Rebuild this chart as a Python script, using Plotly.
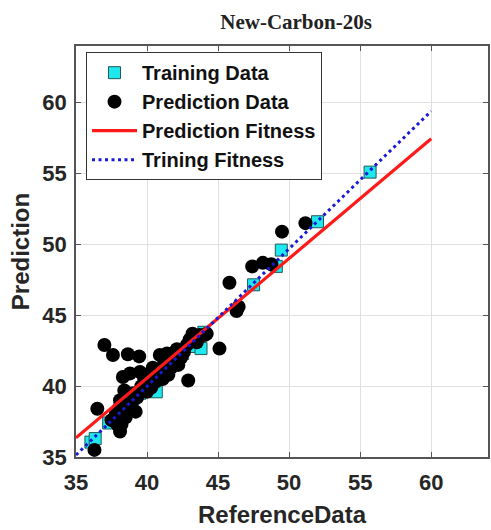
import plotly.graph_objects as go

# Training set (reference value, predicted value)
train_x = [36.05, 36.35, 37.3, 38.1, 38.6, 39.0, 39.5, 40.0, 40.2, 40.65, 41.0, 41.5,
           42.0, 42.5, 43.0, 43.5, 43.8, 44.0, 47.5, 49.1, 49.45, 52.0, 55.7]
train_y = [36.05, 36.3, 37.4, 38.45, 38.6, 39.1, 39.5, 40.0, 40.4, 39.6, 40.9, 41.4,
           41.9, 42.3, 42.8, 43.3, 42.65, 43.8, 47.15, 48.45, 49.6, 51.6, 55.1]

# Prediction set (reference value, predicted value)
pred_x = [37.0, 37.6, 38.65, 39.45, 36.5, 36.3, 38.1, 38.2, 45.1, 42.9,
          46.3, 46.45, 45.8, 47.4, 48.15, 48.75, 49.5, 51.15,
          37.5, 37.8, 38.0, 38.1, 38.4, 38.3, 38.8, 39.5, 38.6, 38.9,
          39.0, 39.3, 39.6, 39.8, 40.0, 40.2, 40.4, 40.6, 40.9, 41.0,
          41.2, 41.4, 41.5, 41.7, 41.9, 42.1, 42.2, 42.4, 42.6, 42.8,
          43.0, 43.2, 43.5, 43.7, 44.2, 39.2, 38.5, 37.9, 40.3, 41.1, 44.05]
pred_y = [42.9, 42.2, 42.25, 42.1, 38.4, 35.5, 36.8, 37.3, 42.65, 40.4,
          45.3, 45.6, 47.3, 48.45, 48.7, 48.6, 50.9, 51.5,
          37.6, 38.0, 38.4, 39.0, 39.7, 40.65, 40.9, 41.0, 38.3, 38.8,
          39.5, 39.2, 40.0, 40.5, 39.6, 40.9, 41.3, 40.3, 42.2, 41.0,
          41.6, 42.3, 40.8, 41.3, 41.9, 42.6, 41.5, 42.0, 42.4, 42.9,
          43.3, 43.7, 43.1, 43.6, 43.7, 38.2, 37.8, 37.3, 39.9, 40.5, 43.6]

# Fitted lines evaluated at the ends of the range
fit_x = [35, 60]
pred_fit_y = [36.35, 57.45]
train_fit_y = [35.14, 59.4]

tick_vals = [35, 40, 45, 50, 55, 60]

fig = go.Figure()
fig.add_trace(go.Scatter(
    x=train_x, y=train_y, mode="markers", name="Training Data",
    marker=dict(symbol="square", size=12, color="#1ee8ee",
                line=dict(color="#1f5a5a", width=1))))
fig.add_trace(go.Scatter(
    x=pred_x, y=pred_y, mode="markers", name="Prediction Data",
    marker=dict(symbol="circle", size=14, color="black")))
fig.add_trace(go.Scatter(
    x=fit_x, y=pred_fit_y, mode="lines", name="Prediction Fitness",
    line=dict(color="#ff1a1a", width=3.2)))
fig.add_trace(go.Scatter(
    x=fit_x, y=train_fit_y, mode="lines", name="Trining Fitness",
    line=dict(color="#1a1ad6", width=3, dash="3px,3.5px")))

axis_common = dict(
    range=[35, 64], tickvals=tick_vals, ticks="inside", ticklen=5,
    tickcolor="#555555", showline=True, linecolor="#555555", linewidth=1.5,
    mirror="ticks", showgrid=True, gridcolor="#e0e0e0", gridwidth=1,
    zeroline=False, automargin=False,
    tickfont=dict(family="Liberation Sans", size=22, color="#262626", weight="bold"),
)

fig.update_layout(
    width=491, height=530,
    margin=dict(l=76, r=3, t=46, b=73),
    paper_bgcolor="white", plot_bgcolor="white",
    title=dict(text="<b>New-Carbon-20s</b>", x=0.603, xanchor="center",
               y=1 - 21.5 / 530, yanchor="middle",
               font=dict(family="Liberation Serif", size=21, color="#222222")),
    xaxis=dict(**axis_common, ticklabelstandoff=5,
               title=dict(text="<b>ReferenceData</b>", standoff=12,
                          font=dict(family="Liberation Sans", size=24, color="#262626"))),
    yaxis=dict(**axis_common, ticklabelstandoff=3,
               title=dict(text="<b>Prediction</b>", standoff=6,
                          font=dict(family="Liberation Sans", size=24, color="#262626"))),
    legend=dict(x=0.0243, y=0.985, xanchor="left", yanchor="top",
                bgcolor="white", bordercolor="#333333", borderwidth=1,
                itemwidth=45,
                font=dict(family="Liberation Sans", size=20, color="#111111", weight="bold")),
    showlegend=True,
)

fig.write_html("out.html")
